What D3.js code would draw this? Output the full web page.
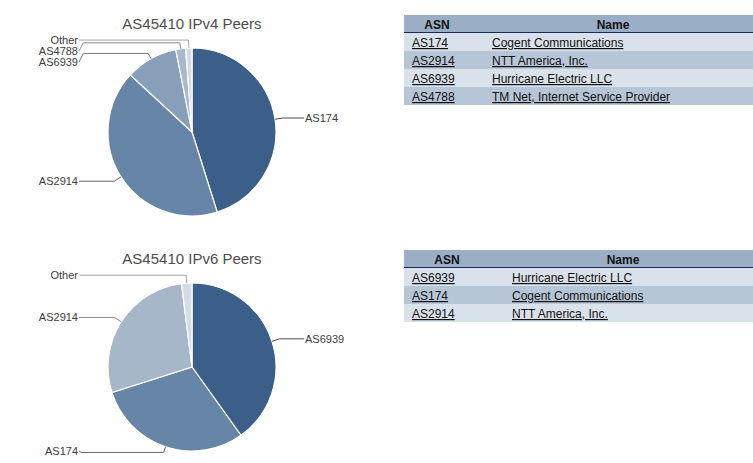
<!DOCTYPE html>
<html>
<head>
<meta charset="utf-8">
<script src="https://cdn.jsdelivr.net/npm/d3@7"></script>
<style>
  html, body { margin: 0; padding: 0; background: #fff; }
  svg { display: block; font-family: Arial, "Liberation Sans", sans-serif; }
</style>
</head>
<body>
<svg id="chart" width="753" height="463"></svg>
<script>
// peer shares (percent)
const ipv4Asns = ["AS174", "AS2914", "AS6939", "AS4788", "Other"]
const ipv4Shares = [45.1, 41.7, 10.0, 1.9, 1.2]
const ipv4Colors = ["#3b5f89", "#6785a7", "#889fba", "#a9b9cb", "#d3dce6"]

const ipv6Asns = ["AS6939", "AS174", "AS2914", "Other"]
const ipv6Shares = [40.1, 30.0, 27.9, 2.0]
const ipv6Colors = ["#3b5f89", "#6785a7", "#a7b7ca", "#d4dce6"]

// tables next to the pies
const ipv4TableAsns = ["AS174", "AS2914", "AS6939", "AS4788"]
const ipv4TableNames = ["Cogent Communications", "NTT America, Inc.", "Hurricane Electric LLC", "TM Net, Internet Service Provider"]
const ipv6TableAsns = ["AS6939", "AS174", "AS2914"]
const ipv6TableNames = ["Hurricane Electric LLC", "Cogent Communications", "NTT America, Inc."]

const svg = d3.select("#chart")

const config = {
  cx: 192,
  radius: 84,
  labelGap: 11,
  textColor: "#3d3d3d"
}

function drawPie (top, title, asns, shares, colors) {
  const cy = top + 132
  const r = config.radius
  const cx = config.cx
  const g = svg.append("g")

  g.append("text")
    .attr("x", cx)
    .attr("y", top + 29)
    .attr("text-anchor", "middle")
    .style("font-size", "15px")
    .style("fill", "#4d4d4d")
    .text(title)

  const color = d3.scaleOrdinal().domain(asns).range(colors)
  const pie = d3.pie().sort(null).value((d) => d.value)
  const arcs = pie(asns.map((a, i) => ({ key: a, value: shares[i] })))
  const arc = d3.arc().innerRadius(0).outerRadius(r)

  g.append("g")
    .attr("transform", `translate(${cx},${cy})`)
    .selectAll("path")
    .data(arcs)
    .enter()
    .append("path")
    .attr("d", arc)
    .style("fill", (d) => color(d.data.key))
    .style("stroke", "#fff")
    .style("stroke-width", 1.2)

  const at = (a, rad) => [cx + rad * Math.sin(a), cy - rad * Math.cos(a)]

  // label layout
  const labels = arcs.map((d) => {
    const mid = (d.startAngle + d.endAngle) / 2
    return {
      key: d.data.key,
      mid,
      right: Math.sin(mid) >= 0,
      y: at(mid, r + 8)[1]
    }
  })
  const minY = top + 39
  const maxY = top + 216
  ;[true, false].forEach((side) => {
    const group = labels.filter((l) => l.right === side).sort((a, b) => a.y - b.y)
    group.forEach((l, i) => {
      if (i === 0) l.y = Math.max(l.y, minY)
      else l.y = Math.max(l.y, group[i - 1].y + config.labelGap)
    })
    for (let i = group.length - 1; i >= 0; i--) {
      if (i === group.length - 1) group[i].y = Math.min(group[i].y, maxY)
      else group[i].y = Math.min(group[i].y, group[i + 1].y - config.labelGap)
    }
  })

  labels.forEach((l) => {
    const cosA = Math.cos(l.mid)
    const p0 = at(l.mid, r)
    let elbow = at(l.mid, r + 6)
    const outward = cosA > 0 ? l.y < elbow[1] : l.y > elbow[1]
    const tx = l.right ? cx + r + 29 : cx - r - 30
    const endX = l.right ? tx - 1 : tx + 1
    const pts = [p0]
    if (outward && Math.abs(cosA) > 0.05 && (cy - l.y) / cosA < r + 24) {
      elbow = at(l.mid, (cy - l.y) / cosA)
      pts.push(elbow, [endX, l.y])
    } else {
      const dy = Math.abs(l.y - elbow[1])
      pts.push(elbow)
      if (dy > 1) {
        const dx = Math.max(2, dy * 0.5)
        pts.push([l.right ? endX - dx : endX + dx, elbow[1]])
      }
      pts.push([endX, l.y])
    }
    const base = d3.hsl(color(l.key))
    const grey = d3.hsl(0, 0, base.l * 0.75)

    g.append("path")
      .attr("d", d3.line()(pts))
      .style("fill", "none")
      .style("stroke", grey.toString())
      .style("stroke-width", 1)

    g.append("text")
      .attr("x", tx)
      .attr("y", l.y + 4)
      .attr("text-anchor", l.right ? "start" : "end")
      .style("font-size", "11px")
      .style("fill", config.textColor)
      .text(l.key)
  })
}

function drawTable (top, asnWidth, asns, names) {
  const x0 = 404
  const x1 = 756
  const rowH = 18
  const xSplit = x0 + asnWidth
  const g = svg.append("g")

  g.append("rect")
    .attr("x", x0).attr("y", top)
    .attr("width", x1 - x0).attr("height", rowH)
    .style("fill", "#9aaec6")
  g.append("line")
    .attr("x1", x0).attr("x2", x1)
    .attr("y1", top + rowH - 0.5).attr("y2", top + rowH - 0.5)
    .style("stroke", "#1b2a5c")
  g.selectAll(".head")
    .data([["ASN", (x0 + xSplit) / 2], ["Name", (xSplit + x1) / 2]])
    .enter()
    .append("text")
    .attr("x", (d) => d[1])
    .attr("y", top + 14)
    .attr("text-anchor", "middle")
    .style("font-size", "12px")
    .style("font-weight", "bold")
    .style("fill", "#111")
    .text((d) => d[0])

  const rows = g.selectAll(".row")
    .data(asns.map((a, i) => ({ asn: a, name: names[i] })))
    .enter()
    .append("g")
    .attr("transform", (d, i) => `translate(0,${top + rowH * (i + 1)})`)

  rows.append("rect")
    .attr("x", x0)
    .attr("width", x1 - x0)
    .attr("height", rowH)
    .style("fill", (d, i) => i % 2 === 0 ? "#d9e1ea" : "#b7c6d7")

  rows.append("text")
    .attr("x", x0 + 8)
    .attr("y", 14)
    .style("font-size", "12px")
    .style("fill", "#111")
    .style("text-decoration", "underline")
    .text((d) => d.asn)

  rows.append("text")
    .attr("x", xSplit + 22)
    .attr("y", 14)
    .style("font-size", "12px")
    .style("fill", "#111")
    .style("text-decoration", "underline")
    .text((d) => d.name)
}

drawPie(0, "AS45410 IPv4 Peers", ipv4Asns, ipv4Shares, ipv4Colors)
drawPie(235, "AS45410 IPv6 Peers", ipv6Asns, ipv6Shares, ipv6Colors)
drawTable(15, 66, ipv4TableAsns, ipv4TableNames)
drawTable(250, 86, ipv6TableAsns, ipv6TableNames)
</script>
</body>
</html>
